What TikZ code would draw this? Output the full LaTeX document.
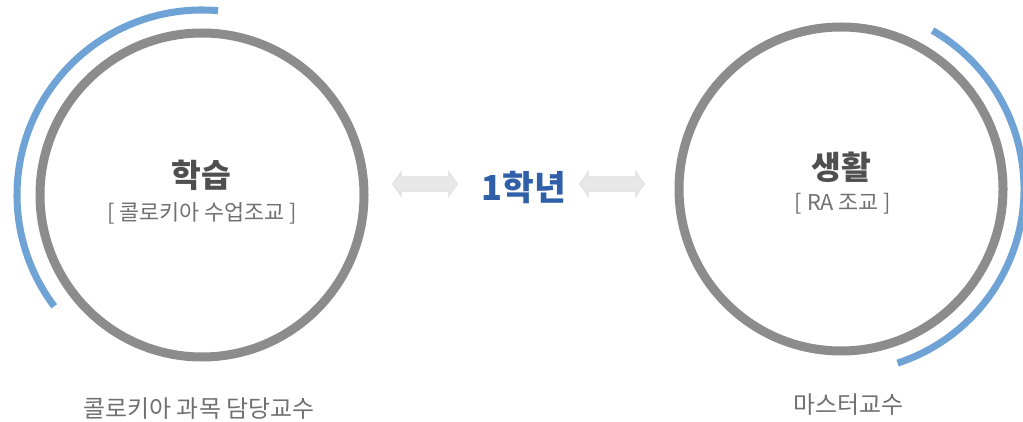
\documentclass[tikz,border=0pt]{standalone}
\usepackage{fontspec}
\setmainfont{Noto Sans CJK KR}
\usetikzlibrary{shapes.arrows}
\definecolor{ringgray}{HTML}{8C8C8C}
\definecolor{haloblue}{HTML}{6FA3D6}
\definecolor{textgray}{HTML}{4F4F4F}
\definecolor{subgray}{HTML}{707070}
\definecolor{yearblue}{HTML}{2F5FA8}
\tikzstyle{ring}=[circle, draw=ringgray, line width=6.4pt, minimum size=324*0.025cm, inner sep=0pt]
\tikzstyle{halo}=[draw=haloblue, line width=5pt]
\tikzstyle{title}=[text=textgray, font=\fontsize{23}{25}\selectfont\bfseries, inner sep=0pt]
\tikzstyle{sub}=[text=subgray, font=\fontsize{15.5}{17}\selectfont, inner sep=0pt]
\tikzstyle{caption}=[text=subgray, font=\fontsize{17}{19}\selectfont, inner sep=0pt]
\tikzstyle{link}=[double arrow, fill=gray!18, draw=gray!28, line width=0.4pt, minimum height=65*0.025cm, inner xsep=0pt, inner ysep=7*0.025cm, double arrow head extend=5.5*0.025cm, double arrow tip angle=110]

\begin{document}
\begin{tikzpicture}[x=0.025cm, y=0.025cm]
    \useasboundingbox (0,0) rectangle (1023,421);
    % two rings
    \node[ring] (learn) at (202,226) {};
    \node[ring] (life) at (841,232) {};
    \draw[halo] ([shift={(85:185)}]learn.center) arc[start angle=85, end angle=217, radius=185];
    \draw[halo] ([shift={(60:183)}]life.center) arc[start angle=60, end angle=-72, radius=183];
    % labels inside
    \node[title] (learnT) at (201,246) {학습};
    \node[sub] (learnS) at (202,208) {[ 콜로키아 수업조교 ]};
    \node[title] (lifeT) at (841,254) {생활};
    \node[sub] (lifeS) at (843,217) {[ RA 조교 ]};
    % middle
    \node[link] (arrL) at (425,237) {};
    \node[text=yearblue, font=\fontsize{24.5}{26}\selectfont\bfseries, inner sep=0pt] (year) at (524,233) {1학년};
    \node[link] (arrR) at (612,237) {};
    % captions
    \node[caption] (learnC) at (199,12) {콜로키아 과목 담당교수};
    \node[caption] (lifeC) at (848,16) {마스터교수};
\end{tikzpicture}
\end{document}
